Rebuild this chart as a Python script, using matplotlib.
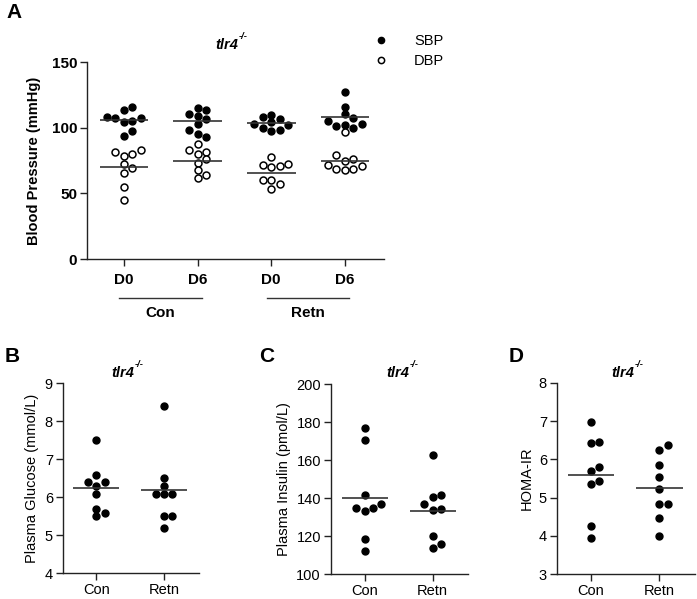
import matplotlib
matplotlib.use("Agg")
import matplotlib.pyplot as plt
import numpy as np

plt.rcParams['font.family'] = ['Liberation Sans', 'DejaVu Sans']

# Panel A: blood pressure (mmHg), 4 groups
bp_groups = ['D0', 'D6', 'D0', 'D6']
bp_treatments = ['Con', 'Retn']
sbp = [
    [115.7, 113.1, 108.1, 107.1, 107.6, 104.0, 105.0, 97.4, 93.4],
    [113.6, 115.2, 109.1, 110.6, 106.5, 103.0, 95.4, 98.4, 93.1],
    [109.6, 106.5, 108.5, 104.2, 102.2, 102.7, 98.4, 97.6, 99.7],
    [127.1, 116.1, 110.4, 107.3, 102.7, 100.9, 104.7, 99.7, 102.2],
]
dbp = [
    [82.7, 78.1, 79.7, 81.2, 72.0, 69.0, 65.4, 54.8, 45.2],
    [87.8, 81.7, 82.7, 80.2, 76.1, 73.1, 67.5, 61.9, 63.9],
    [77.3, 72.3, 71.0, 70.0, 71.5, 59.8, 57.3, 59.8, 53.5],
    [96.6, 79.4, 76.3, 74.3, 71.8, 71.0, 68.7, 68.0, 68.7],
]

# Panels B-D: Con vs Retn
groups = ['Con', 'Retn']
glucose = [
    [7.5, 6.6, 6.3, 6.4, 6.4, 6.1, 5.7, 5.5, 5.6],
    [8.4, 6.5, 6.3, 6.1, 6.1, 6.1, 5.5, 5.5, 5.2],
]
insulin = [
    [176.7, 170.6, 141.9, 135.0, 133.4, 135.0, 137.0, 118.4, 112.4],
    [162.9, 141.9, 140.8, 137.0, 133.6, 134.3, 120.1, 116.1, 113.7],
]
homa = [
    [6.98, 6.42, 6.46, 5.81, 5.70, 5.35, 5.44, 4.26, 3.96],
    [6.24, 6.37, 5.84, 5.53, 5.23, 4.83, 4.83, 4.47, 4.01],
]

W, H = 697, 599
fig = plt.figure(figsize=(W / 100, H / 100), dpi=100)


def px_axes(left, top, right, bottom):
    return fig.add_axes([left / W, 1 - bottom / H, (right - left) / W, (bottom - top) / H])


def swarm_offsets(values, ax, step_px=8.5, min_dy=7.0):
    # simple column-based beeswarm, done in pixel space
    y0, y1 = ax.get_ylim()
    x0, x1 = ax.get_xlim()
    ppu_y = ax.bbox.height / (y1 - y0)
    ppu_x = ax.bbox.width / (x1 - x0)
    vals = np.asarray(values, dtype=float)
    offsets = np.zeros(len(vals))
    cols = {}
    for i in np.argsort(vals):
        y = vals[i] * ppu_y
        for c in [0, 1, -1, 2, -2, 3, -3, 4, -4]:
            if all(abs(y - yy) >= min_dy for yy in cols.get(c, [])):
                break
        cols.setdefault(c, []).append(y)
        offsets[i] = c * step_px / ppu_x
    return offsets


def style_axes(ax):
    for s in ['top', 'right']:
        ax.spines[s].set_visible(False)
    for s in ['left', 'bottom']:
        ax.spines[s].set_linewidth(1.0)
        ax.spines[s].set_color('#222222')
    ax.tick_params(direction='out', length=5, width=1.0, color='#222222', pad=2)


def genotype_title(x, y, size):
    # "tlr4" with a small "-/-" superscript
    t = fig.text(x / W, 1 - y / H, 'tlr4', ha='right', va='center', fontsize=size,
                 fontweight='bold', fontstyle='italic')
    fig.text(x / W + 0.001, 1 - y / H + size * 0.0006, '-/-', ha='left', va='bottom',
             fontsize=size * 0.65, fontweight='bold', fontstyle='italic')
    return t


# ---------- Panel A ----------
axA = px_axes(87, 62, 384, 259)
axA.set_xlim(-0.5, 3.53)
axA.set_ylim(0, 150)
style_axes(axA)
axA.set_yticks([0, 50, 100, 150])
axA.set_xticks(range(len(bp_groups)))
axA.set_xticklabels(bp_groups, fontweight='bold', fontsize=11)
for lab in axA.get_yticklabels():
    lab.set_fontweight('bold')
    lab.set_fontsize(11)
axA.tick_params(axis='x', pad=5)
axA.set_ylabel('Blood Pressure (mmHg)', fontweight='bold', fontsize=10.5, labelpad=8)

for i in range(len(bp_groups)):
    vals = np.array(sbp[i] + dbp[i])
    offs = swarm_offsets(vals, axA)
    n = len(sbp[i])
    axA.plot(i + offs[:n], sbp[i], 'o', ms=5, mfc='black', mec='black', mew=1,
             label='SBP' if i == 0 else None, clip_on=False)
    axA.plot(i + offs[n:], dbp[i], 'o', ms=5, mfc='white', mec='black', mew=1.1,
             label='DBP' if i == 0 else None, clip_on=False)
    axA.hlines([np.mean(sbp[i]), np.mean(dbp[i])], i - 0.33, i + 0.33, color='#333333', lw=1.2)

# group brackets under the axis
trans = axA.get_xaxis_transform()
for j, name in enumerate(bp_treatments):
    c = 2 * j + 0.5
    axA.plot([c - 0.56, c + 0.56], [-0.196, -0.196], color='#333333', lw=1, transform=trans, clip_on=False)
    axA.text(c, -0.272, name, transform=trans, ha='center', va='center', fontweight='bold', fontsize=11)

leg = axA.legend(loc='center left', bbox_to_anchor=(366 / W, 1 - 51 / H), bbox_transform=fig.transFigure,
                 frameon=False, fontsize=10.5, handlelength=1.0, handletextpad=1.8, labelspacing=0.45,
                 borderpad=0, markerscale=0.9)

genotype_title(238, 45, 10.5)
fig.text(6 / W, 1 - 13 / H, 'A', ha='left', va='center', fontsize=15, fontweight='bold')


# ---------- Panels B-D ----------
def small_panel(box, data, ylim, yticks, ylabel, letter, letter_x, title_x):
    ax = px_axes(*box)
    ax.set_xlim(-0.5, 1.52)
    ax.set_ylim(*ylim)
    style_axes(ax)
    ax.set_yticks(yticks)
    ax.set_xticks(range(len(groups)))
    ax.set_xticklabels(groups, fontsize=10.5)
    ax.tick_params(axis='y', labelsize=10.5)
    ax.tick_params(axis='x', pad=2)
    ax.set_ylabel(ylabel, fontsize=10.5, labelpad=4)
    for i, vals in enumerate(data):
        offs = swarm_offsets(vals, ax, step_px=8.3, min_dy=7.0)
        ax.plot(i + offs, vals, 'o', ms=5, mfc='black', mec='black', clip_on=False)
        ax.hlines(np.mean(vals), i - 0.34, i + 0.34, color='#333333', lw=1.2)
    genotype_title(title_x, 373, 10.5)
    fig.text(letter_x / W, 1 - 356 / H, letter, ha='left', va='center', fontsize=15, fontweight='bold')
    return ax


small_panel((62.7, 383.3, 199, 573.3), glucose, (4, 9), range(4, 10),
            'Plasma Glucose (mmol/L)', 'B', 5, 134)
small_panel((330.7, 384, 468, 574.3), insulin, (100, 200), range(100, 201, 20),
            'Plasma Insulin (pmol/L)', 'C', 259, 409)
small_panel((556.7, 382.7, 695, 574.3), homa, (3, 8), range(3, 9),
            'HOMA-IR', 'D', 509, 634)

fig.savefig('out.png', dpi=100, facecolor='white')
